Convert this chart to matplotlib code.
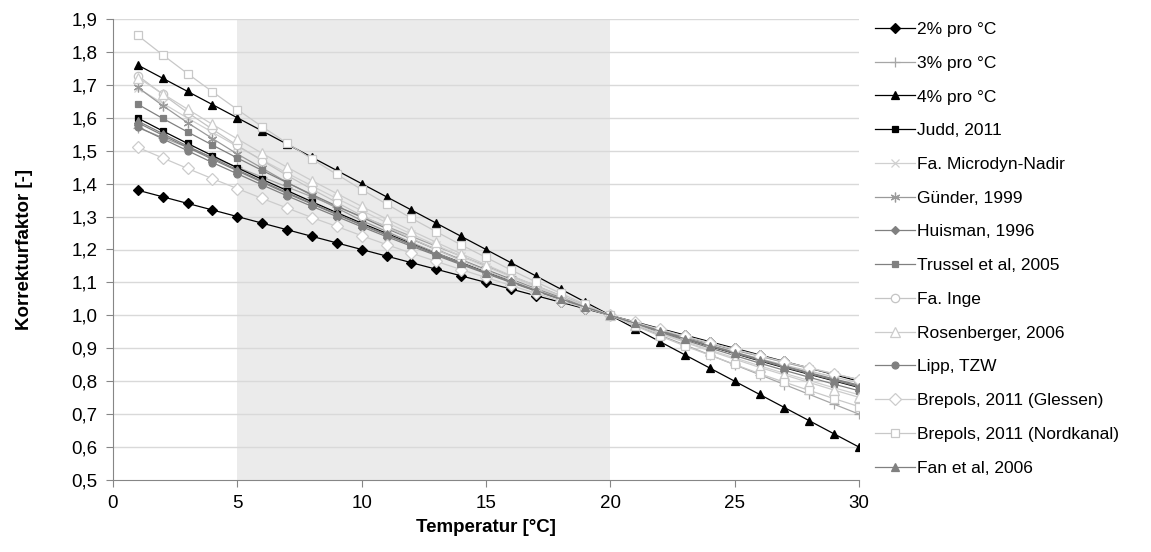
import matplotlib
matplotlib.use("Agg")
import matplotlib.pyplot as plt
from matplotlib.ticker import FuncFormatter, MultipleLocator

plt.rcParams['font.family'] = ['Liberation Sans', 'DejaVu Sans']

temperatur = list(range(1, 31))

p2 = [1.38, 1.36, 1.34, 1.32, 1.30, 1.28, 1.26, 1.24, 1.22, 1.20, 1.18, 1.16, 1.14, 1.12, 1.10,
      1.08, 1.06, 1.04, 1.02, 1.00, 0.98, 0.96, 0.94, 0.92, 0.90, 0.88, 0.86, 0.84, 0.82, 0.80]
p3 = [1.57, 1.54, 1.51, 1.48, 1.45, 1.42, 1.39, 1.36, 1.33, 1.30, 1.27, 1.24, 1.21, 1.18, 1.15,
      1.12, 1.09, 1.06, 1.03, 1.00, 0.97, 0.94, 0.91, 0.88, 0.85, 0.82, 0.79, 0.76, 0.73, 0.70]
p4 = [1.76, 1.72, 1.68, 1.64, 1.60, 1.56, 1.52, 1.48, 1.44, 1.40, 1.36, 1.32, 1.28, 1.24, 1.20,
      1.16, 1.12, 1.08, 1.04, 1.00, 0.96, 0.92, 0.88, 0.84, 0.80, 0.76, 0.72, 0.68, 0.64, 0.60]
judd = [1.599, 1.560, 1.522, 1.485, 1.448, 1.413, 1.379, 1.345, 1.312, 1.280, 1.249, 1.218, 1.189,
        1.160, 1.131, 1.104, 1.077, 1.051, 1.025, 1.000, 0.976, 0.952, 0.929, 0.906, 0.884, 0.862,
        0.841, 0.821, 0.801, 0.781]
microdyn = [1.690, 1.644, 1.599, 1.556, 1.513, 1.472, 1.432, 1.393, 1.355, 1.318, 1.282, 1.247,
            1.213, 1.180, 1.148, 1.117, 1.086, 1.057, 1.028, 1.000, 0.973, 0.946, 0.921, 0.895,
            0.871, 0.847, 0.824, 0.802, 0.780, 0.759]
guender = [1.692, 1.637, 1.585, 1.537, 1.490, 1.447, 1.404, 1.364, 1.326, 1.288, 1.255, 1.221,
           1.190, 1.159, 1.129, 1.102, 1.075, 1.048, 1.024, 1.000, 0.977, 0.955, 0.934, 0.914,
           0.894, 0.876, 0.857, 0.839, 0.822, 0.805]
huisman = [1.585, 1.547, 1.510, 1.474, 1.439, 1.404, 1.370, 1.338, 1.306, 1.274, 1.244, 1.214,
           1.185, 1.157, 1.129, 1.102, 1.075, 1.050, 1.025, 1.000, 0.976, 0.953, 0.930, 0.908,
           0.886, 0.865, 0.844, 0.824, 0.804, 0.785]
trussel = [1.641, 1.598, 1.557, 1.517, 1.478, 1.440, 1.403, 1.367, 1.332, 1.298, 1.264, 1.232,
           1.200, 1.169, 1.139, 1.110, 1.081, 1.054, 1.026, 1.000, 0.974, 0.949, 0.925, 0.901,
           0.878, 0.855, 0.833, 0.812, 0.791, 0.771]
inge = [1.728, 1.671, 1.616, 1.565, 1.516, 1.470, 1.425, 1.383, 1.343, 1.303, 1.268, 1.233, 1.200,
        1.167, 1.136, 1.107, 1.079, 1.051, 1.025, 1.000, 0.976, 0.953, 0.931, 0.909, 0.888, 0.869,
        0.849, 0.831, 0.813, 0.795]
rosenberger = [1.722, 1.673, 1.626, 1.580, 1.536, 1.492, 1.450, 1.409, 1.370, 1.331, 1.293, 1.257,
               1.222, 1.187, 1.154, 1.121, 1.090, 1.059, 1.029, 1.000, 0.972, 0.944, 0.918, 0.892,
               0.867, 0.842, 0.819, 0.796, 0.773, 0.751]
lipp = [1.573, 1.536, 1.500, 1.464, 1.430, 1.396, 1.363, 1.331, 1.300, 1.269, 1.239, 1.210, 1.182,
        1.154, 1.127, 1.100, 1.074, 1.049, 1.024, 1.000, 0.976, 0.953, 0.931, 0.909, 0.888, 0.867,
        0.846, 0.826, 0.807, 0.788]
glessen = [1.510, 1.478, 1.446, 1.415, 1.385, 1.355, 1.326, 1.297, 1.270, 1.242, 1.215, 1.189,
           1.164, 1.139, 1.115, 1.091, 1.067, 1.044, 1.022, 1.000, 0.979, 0.958, 0.937, 0.917,
           0.897, 0.878, 0.859, 0.841, 0.823, 0.805]
nordkanal = [1.850, 1.791, 1.734, 1.679, 1.625, 1.573, 1.523, 1.475, 1.428, 1.382, 1.338, 1.295,
             1.254, 1.214, 1.176, 1.138, 1.102, 1.067, 1.033, 1.000, 0.968, 0.937, 0.907, 0.879,
             0.851, 0.823, 0.797, 0.772, 0.747, 0.723]
fan = [1.590, 1.552, 1.514, 1.478, 1.442, 1.407, 1.373, 1.340, 1.308, 1.276, 1.246, 1.216, 1.186,
       1.158, 1.130, 1.103, 1.076, 1.050, 1.025, 1.000, 0.976, 0.952, 0.929, 0.907, 0.885, 0.864,
       0.843, 0.823, 0.803, 0.783]

labels = ["2% pro °C", "3% pro °C", "4% pro °C", "Judd, 2011", "Fa. Microdyn-Nadir",
          "Günder, 1999", "Huisman, 1996", "Trussel et al, 2005", "Fa. Inge",
          "Rosenberger, 2006", "Lipp, TZW", "Brepols, 2011 (Glessen)",
          "Brepols, 2011 (Nordkanal)", "Fan et al, 2006"]
series = [p2, p3, p4, judd, microdyn, guender, huisman, trussel, inge, rosenberger, lipp,
          glessen, nordkanal, fan]

# (line colour, marker, marker face, marker edge, size)
styles = [
    ("#000000", "D", "#000000", "#000000", 5),
    ("#a6a6a6", "+", "#a6a6a6", "#a6a6a6", 7),
    ("#000000", "^", "#000000", "#000000", 5.5),
    ("#000000", "s", "#000000", "#000000", 5),
    ("#d0d0d0", "x", "#d0d0d0", "#d0d0d0", 6),
    ("#9a9a9a", (6, 2, 0), "#9a9a9a", "#9a9a9a", 7),
    ("#808080", "D", "#808080", "#808080", 4.5),
    ("#808080", "s", "#808080", "#808080", 5),
    ("#c4c4c4", "o", "white", "#c4c4c4", 6),
    ("#cccccc", "^", "white", "#cccccc", 6.5),
    ("#808080", "o", "#808080", "#808080", 5),
    ("#cccccc", "D", "white", "#cccccc", 6),
    ("#c8c8c8", "s", "white", "#c8c8c8", 6),
    ("#808080", "^", "#808080", "#808080", 5.5),
]

fig = plt.figure(figsize=(11.51, 5.52), dpi=100)
ax = fig.add_axes([113 / 1151, 1 - 480 / 552, (859 - 113) / 1151, (480 - 19) / 552])

ax.axvspan(5, 20, color="#ebebeb", zorder=0, lw=0)
for y in [0.6, 0.7, 0.8, 0.9, 1.0, 1.1, 1.2, 1.3, 1.4, 1.5, 1.6, 1.7, 1.8, 1.9]:
    ax.axhline(y, color="#d9d9d9", lw=1, zorder=1)

for vals, lab, (lc, mk, mf, me, ms) in zip(series, labels, styles):
    ax.plot(temperatur, vals, color=lc, lw=0.9, marker=mk, markersize=ms,
            markerfacecolor=mf, markeredgecolor=me, markeredgewidth=0.9, label=lab, zorder=3)

ax.set_xlim(0, 30)
ax.set_ylim(0.5, 1.9)
ax.xaxis.set_major_locator(MultipleLocator(5))
ax.yaxis.set_major_locator(MultipleLocator(0.1))
ax.yaxis.set_major_formatter(FuncFormatter(lambda v, p: f"{v:.1f}".replace(".", ",")))
for s in ["top", "right"]:
    ax.spines[s].set_visible(False)
for s in ["left", "bottom"]:
    ax.spines[s].set_color("#868686")
ax.tick_params(axis="both", colors="#868686", labelcolor="black", labelsize=13.5, length=5)
ax.tick_params(axis="y", pad=6)
ax.tick_params(axis="x", pad=6)
ax.set_xlabel("Temperatur [°C]", fontsize=13.5, fontweight="bold", labelpad=5)
ax.set_ylabel("Korrekturfaktor [-]", fontsize=13.5, fontweight="bold", labelpad=28)

fig.legend(loc="upper left", bbox_to_anchor=(868 / 1151, 1 - 15 / 552), frameon=False,
           fontsize=12.5, handlelength=2.3, handletextpad=0.15, labelspacing=1.07,
           borderaxespad=0)

fig.savefig("out.png", dpi=100)
